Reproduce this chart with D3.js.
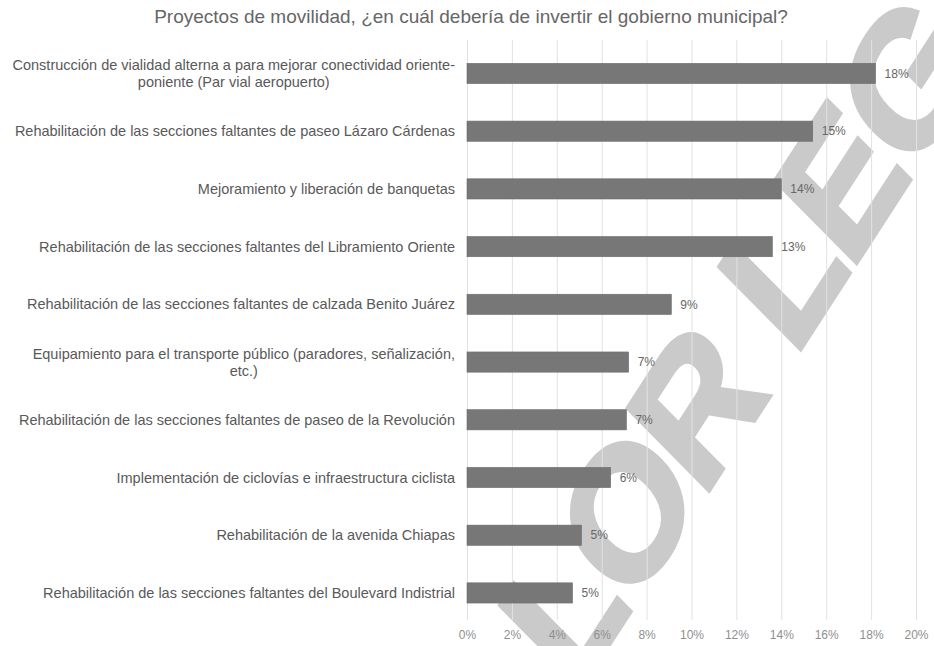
<!DOCTYPE html>
<html>
<head>
<meta charset="utf-8">
<script src="https://cdn.jsdelivr.net/npm/d3@7"></script>
<style>
  html, body { margin: 0; padding: 0; background: #ffffff; }
  svg { display: block; font-family: "Liberation Sans", Arial, sans-serif; }
</style>
</head>
<body>
<svg id="chart" width="934" height="646"></svg>
<script>
const title = "Proyectos de movilidad, ¿en cuál debería de invertir el gobierno municipal?";
const categories = [
  ["Construcción de vialidad alterna a para mejorar conectividad oriente-", "poniente (Par vial aeropuerto)"],
  ["Rehabilitación de las secciones faltantes de paseo Lázaro Cárdenas"],
  ["Mejoramiento y liberación de banquetas"],
  ["Rehabilitación de las secciones faltantes del Libramiento Oriente"],
  ["Rehabilitación de las secciones faltantes de calzada Benito Juárez"],
  ["Equipamiento para el transporte público (paradores, señalización,", "etc.)"],
  ["Rehabilitación de las secciones faltantes de paseo de la Revolución"],
  ["Implementación de ciclovías e infraestructura ciclista"],
  ["Rehabilitación de la avenida Chiapas"],
  ["Rehabilitación de las secciones faltantes del Boulevard Indistrial"]
];
const values = [0.182, 0.154, 0.140, 0.136, 0.091, 0.072, 0.071, 0.064, 0.051, 0.047];
const valueLabels = ["18%", "15%", "14%", "13%", "9%", "7%", "7%", "6%", "5%", "5%"];
const tickValues = [0, 0.02, 0.04, 0.06, 0.08, 0.10, 0.12, 0.14, 0.16, 0.18, 0.20];
const watermark = ["SIN VALOR", "LEGAL"];

const svg = d3.select("#chart");
const keys = categories.map((c, i) => i);

const x = d3.scaleLinear().domain([0, 0.20]).range([467, 916]);
const y = d3.scaleBand().domain(keys).range([44.6, 621.8]).paddingInner(0.65).paddingOuter(0.325);

// watermark (behind everything)
const wmSize = 152;
const wm = svg.append("g")
  .attr("transform", "translate(800,350) scale(1,1.25) rotate(-51)")
  .attr("fill", "#cacaca")
  .attr("stroke", "#cacaca")
  .attr("stroke-width", 4)
  .attr("stroke-linejoin", "miter")
  .style("font-family", "'Liberation Sans', Arial, sans-serif")
  .style("font-weight", "bold")
  .style("font-size", wmSize + "px")
  .style("letter-spacing", "-4px");
wm.append("text").attr("x", -0.06 * wmSize).attr("y", 0).attr("text-anchor", "start").text(watermark[1]);
wm.append("text").attr("x", -0.06 * wmSize - 0.26 * wmSize).attr("y", 0).attr("text-anchor", "end").text(watermark[0]);

// grid
const grid = svg.append("g")
  .attr("transform", "translate(0,620)")
  .call(d3.axisBottom(x).tickValues(tickValues).tickSize(-580).tickFormat(""));
grid.select(".domain").remove();
grid.selectAll(".tick line").attr("stroke", "#e2e2e2").attr("stroke-width", 1);

// x axis labels
const xa = svg.append("g")
  .attr("transform", "translate(0,621)")
  .call(d3.axisBottom(x).tickValues(tickValues).tickSize(0).tickPadding(9).tickFormat(d3.format(".0%")));
xa.select(".domain").remove();
xa.selectAll(".tick text").attr("fill", "#8f8f8f").style("font-size", "12px").style("font-family", "'Liberation Sans', Arial, sans-serif");

// bars
svg.append("g").selectAll("rect").data(values).join("rect")
  .attr("x", x(0))
  .attr("y", (d, i) => y(i))
  .attr("width", d => x(d) - x(0))
  .attr("height", y.bandwidth())
  .attr("fill", "#777777")
  .attr("stroke", "#6c6c6c")
  .attr("stroke-width", 0.6);

// value labels
svg.append("g").selectAll("text").data(values).join("text")
  .attr("x", d => x(d) + 9)
  .attr("y", (d, i) => y(i) + y.bandwidth() / 2)
  .attr("dy", "0.35em")
  .attr("fill", "#666666")
  .style("font-size", "12px")
  .text((d, i) => valueLabels[i]);

// category labels
const labelRight = 455;
const labelSize = "14.5px";
const lab = svg.append("g").selectAll("g").data(categories).join("g");
lab.each(function(lines, i) {
  const g = d3.select(this);
  const cy = y(i) + y.bandwidth() / 2;
  const lh = 17;
  const t = g.append("text")
    .attr("fill", "#595959")
    .style("font-size", labelSize)
    .attr("text-anchor", "end");
  if (lines.length === 1) {
    t.attr("x", labelRight).attr("y", cy).attr("dy", "0.35em").text(lines[0]);
  } else {
    t.attr("x", labelRight).attr("y", cy - lh / 2).attr("dy", "0.35em").text(lines[0]);
    const w = t.node().getComputedTextLength();
    const center = labelRight - w / 2;
    g.append("text")
      .attr("fill", "#595959")
      .style("font-size", labelSize)
      .attr("text-anchor", "middle")
      .attr("x", center).attr("y", cy + lh / 2).attr("dy", "0.35em").text(lines[1]);
  }
});

// title
svg.append("text")
  .attr("x", 471).attr("y", 23)
  .attr("text-anchor", "middle")
  .attr("fill", "#666666")
  .style("font-size", "19px")
  .text(title);
</script>
</body>
</html>
